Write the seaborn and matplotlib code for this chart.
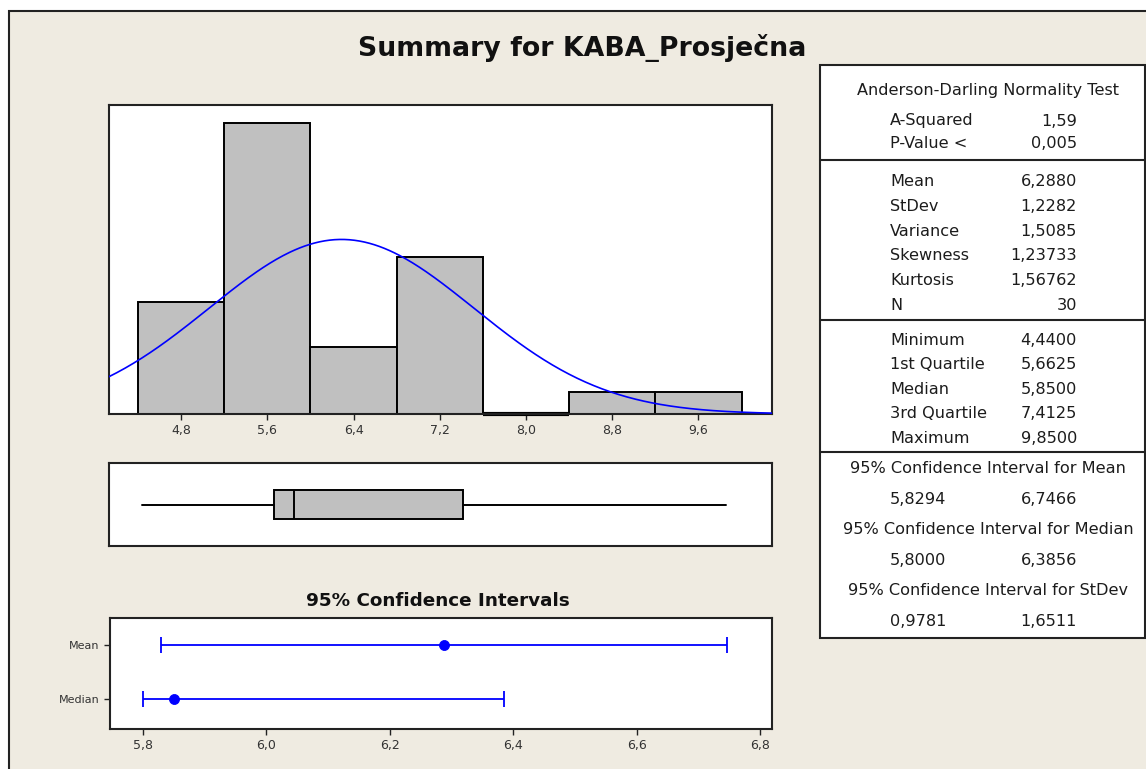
import numpy as np
import matplotlib
matplotlib.use("Agg")
import matplotlib.pyplot as plt
import matplotlib.patches as patches
from matplotlib.lines import Line2D
import seaborn as sns

BIN_EDGES = [4.4, 5.2, 6.0, 6.8, 7.6, 8.4, 9.2, 10.0]
BIN_COUNTS = [5, 13, 3, 7, 0, 1, 1]
HIST_TICKS = [4.8, 5.6, 6.4, 7.2, 8.0, 8.8, 9.6]

MEAN = 6.2880
STDEV = 1.2282
N_OBS = 30
FIVE_NUM = [4.4400, 5.6625, 5.8500, 7.4125, 9.8500]  # min, Q1, median, Q3, max

CI_ROWS = ["Mean", "Median"]
CI_CENTER = [6.2880, 5.8500]
CI_LOW = [5.8294, 5.8000]
CI_HIGH = [6.7466, 6.3856]
CI_TICKS = [5.8, 6.0, 6.2, 6.4, 6.6, 6.8]
STDEV_CI = [0.9781, 1.6511]

AD_LABELS = ["A-Squared", "P-Value <"]
AD_VALUES = ["1,59", "0,005"]
MOMENT_LABELS = ["Mean", "StDev", "Variance", "Skewness", "Kurtosis", "N"]
MOMENT_VALUES = ["6,2880", "1,2282", "1,5085", "1,23733", "1,56762", "30"]
QUART_LABELS = ["Minimum", "1st Quartile", "Median", "3rd Quartile", "Maximum"]
QUART_VALUES = ["4,4400", "5,6625", "5,8500", "7,4125", "9,8500"]

# --- style ---
W, H = 1146, 769
BEIGE = "#EFEBE1"
GREY_BAR = "#C0C0C0"
FRAME = "#222222"
TXT = "#1c1c1c"
HIST_XLIM = (4.126, 10.28)
CI_XLIM = (5.746, 6.82)

sns.set_style("white")
plt.rcParams["font.family"] = ["DejaVu Sans"]


def comma(v, nd):
    return f"{v:.{nd}f}".replace(".", ",")


def px_axes(fig, l, t, r, b):
    return fig.add_axes([l / W, 1 - b / H, (r - l) / W, (b - t) / H])


def frame_axes(ax):
    ax.set_facecolor("white")
    for s in ax.spines.values():
        s.set_visible(True)
        s.set_color(FRAME)
        s.set_linewidth(1.5)


fig = plt.figure(figsize=(W / 100, H / 100), dpi=100, facecolor="white")

# beige panel with dark border (top/left visible)
fig.add_artist(patches.Rectangle((9 / W, -0.05), 1.1, 1.05 - 11 / H,
                                 transform=fig.transFigure, facecolor=BEIGE,
                                 edgecolor=FRAME, linewidth=1.5, zorder=-5))

fig.text(582 / W, 1 - 48 / H, "Summary for KABA_Prosječna", ha="center", va="center",
         fontsize=19.3, fontweight="bold", color="#111111")

# --- histogram with fitted normal curve ---
ax1 = px_axes(fig, 108.5, 105, 771.7, 414)
frame_axes(ax1)
centers = [(a + b) / 2 for a, b in zip(BIN_EDGES[:-1], BIN_EDGES[1:])]
sns.histplot(x=centers, weights=BIN_COUNTS, bins=BIN_EDGES, color=GREY_BAR,
             edgecolor="black", linewidth=1.4, alpha=1, ax=ax1, zorder=2)
# the empty bin shows as a heavier line on the baseline
ax1.hlines(0, BIN_EDGES[4], BIN_EDGES[5], color="black", linewidth=3, zorder=2.5, clip_on=False)
bin_w = BIN_EDGES[1] - BIN_EDGES[0]
xs = np.linspace(HIST_XLIM[0], HIST_XLIM[1], 400)
ys = N_OBS * bin_w * np.exp(-0.5 * ((xs - MEAN) / STDEV) ** 2) / (STDEV * np.sqrt(2 * np.pi))
sns.lineplot(x=xs, y=ys, color="#0000FF", linewidth=1.2, ax=ax1, zorder=3)
ax1.set_xlim(*HIST_XLIM)
ax1.set_ylim(0, 13.8)
ax1.set_yticks([])
ax1.set_xticks(HIST_TICKS)
ax1.set_xticklabels([comma(t, 1) for t in HIST_TICKS])
ax1.set_xlabel("")
ax1.set_ylabel("")
ax1.tick_params(axis="x", bottom=True, direction="out", length=4, width=1,
                colors=FRAME, labelsize=9, pad=3, labelcolor="#333333")

# --- boxplot from the five-number summary ---
ax2 = px_axes(fig, 108.5, 463.3, 772, 545.7)
frame_axes(ax2)
box_stats = [dict(whislo=FIVE_NUM[0], q1=FIVE_NUM[1], med=FIVE_NUM[2],
                  q3=FIVE_NUM[3], whishi=FIVE_NUM[4], fliers=[])]
bkw = dict(positions=[0], widths=0.35, showcaps=False, showfliers=False, patch_artist=True,
           boxprops=dict(facecolor=GREY_BAR, edgecolor="black", linewidth=1.4),
           medianprops=dict(color="black", linewidth=1.4),
           whiskerprops=dict(color="black", linewidth=1.4))
try:
    ax2.bxp(box_stats, orientation="horizontal", **bkw)
except TypeError:
    ax2.bxp(box_stats, vert=False, **bkw)
ax2.set_xlim(*HIST_XLIM)
ax2.set_ylim(-0.5, 0.5)
ax2.set_xticks([])
ax2.set_yticks([])

# --- 95% confidence intervals ---
fig.text(438 / W, 1 - 601 / H, "95% Confidence Intervals", ha="center", va="center",
         fontsize=13.2, fontweight="bold", color="#111111")
ax3 = px_axes(fig, 109.5, 617.7, 772.3, 729)
frame_axes(ax3)
ypos = list(range(len(CI_ROWS)))
xerr = [[c - lo for c, lo in zip(CI_CENTER, CI_LOW)],
        [hi - c for c, hi in zip(CI_CENTER, CI_HIGH)]]
ax3.errorbar(CI_CENTER, ypos, xerr=xerr, fmt="none", ecolor="#0000FF",
             elinewidth=1.3, capsize=6, capthick=1.3)
sns.scatterplot(x=CI_CENTER, y=ypos, color="#0000FF", edgecolor="#0000FF", s=52,
                ax=ax3, zorder=4, legend=False)
ax3.set_xlim(*CI_XLIM)
ax3.set_ylim(1.547, -0.503)
ax3.set_yticks(ypos)
ax3.set_yticklabels(CI_ROWS)
ax3.set_xticks(CI_TICKS)
ax3.set_xticklabels([comma(t, 1) for t in CI_TICKS])
ax3.set_xlabel("")
ax3.set_ylabel("")
ax3.tick_params(axis="both", bottom=True, left=True, direction="out", length=4, width=1,
                colors=FRAME, labelcolor="#333333", pad=3)
ax3.tick_params(axis="x", labelsize=9)
ax3.tick_params(axis="y", labelsize=8)

# --- statistics table on the right ---
tx0, tx1, ty0, ty1 = 820, 1145, 65, 638
fig.add_artist(patches.Rectangle((tx0 / W, 1 - ty1 / H), (tx1 - tx0) / W, (ty1 - ty0) / H,
                                 transform=fig.transFigure, facecolor="white",
                                 edgecolor=FRAME, linewidth=1.5, zorder=1))
for yy in [160, 320, 451.7]:
    fig.add_artist(Line2D([tx0 / W, tx1 / W], [1 - yy / H, 1 - yy / H],
                          transform=fig.transFigure, color=FRAME, linewidth=1.5, zorder=2))

FS = 11.6
LX, VX, CX = 890, 1077, 988


def row(y, label, value):
    fig.text(LX / W, 1 - y / H, label, ha="left", va="center", fontsize=FS, color=TXT, zorder=3)
    fig.text(VX / W, 1 - y / H, value, ha="right", va="center", fontsize=FS, color=TXT, zorder=3)


def centered(y, s):
    fig.text(CX / W, 1 - y / H, s, ha="center", va="center", fontsize=FS, color=TXT, zorder=3)


centered(90, "Anderson-Darling Normality Test")
for i, (l, v) in enumerate(zip(AD_LABELS, AD_VALUES)):
    row(121 + i * 22.3, l, v)
for i, (l, v) in enumerate(zip(MOMENT_LABELS, MOMENT_VALUES)):
    row(181.7 + i * 24.7, l, v)
for i, (l, v) in enumerate(zip(QUART_LABELS, QUART_VALUES)):
    row(340 + i * 24.6, l, v)

ci_blocks = [("95% Confidence Interval for Mean", CI_LOW[0], CI_HIGH[0]),
             ("95% Confidence Interval for Median", CI_LOW[1], CI_HIGH[1]),
             ("95% Confidence Interval for StDev", STDEV_CI[0], STDEV_CI[1])]
for i, (title, lo, hi) in enumerate(ci_blocks):
    y = 468.3 + i * 61
    centered(y, title)
    row(y + 31.5, comma(lo, 4), comma(hi, 4))

fig.savefig("out.png", dpi=100, facecolor="white")
